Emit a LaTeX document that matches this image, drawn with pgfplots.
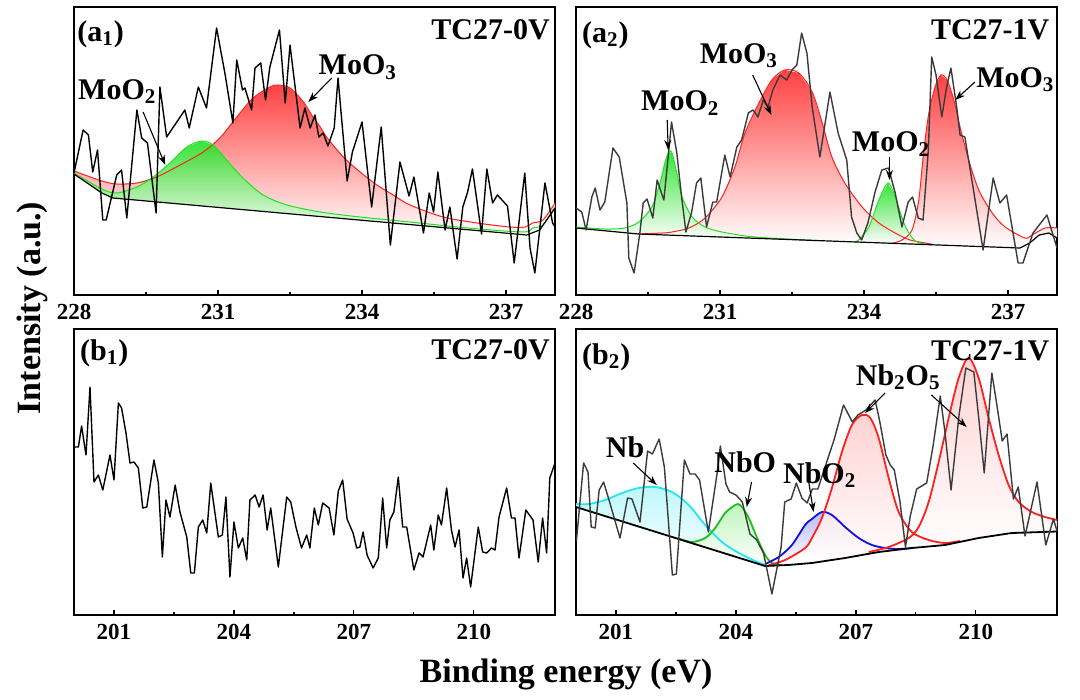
\documentclass[border=0pt]{standalone}
\usepackage{fontspec}
\setmainfont{Liberation Serif}
\usepackage{pgfplots}
\pgfplotsset{compat=1.18}
\usetikzlibrary{arrows.meta}

\definecolor{fred}{HTML}{FF2020}
\definecolor{fgreen}{HTML}{22E022}
\definecolor{fcyan}{HTML}{22E6F2}
\definecolor{fblue}{HTML}{1010E0}
\definecolor{rawgray}{HTML}{3A3A3A}

\pgfplotsset{
  xpsaxis/.style={
    scale only axis, width=240.5pt, anchor=north west,
    ytick=\empty, xtick pos=lower, tick align=inside,
    major tick length=2.5pt, minor tick length=1.5pt,
    minor x tick num=1,
    axis line style={line width=0.75pt},
    every tick/.style={black, line width=0.6pt},
    xticklabel style={font=\fontsize{11.5}{11.5}\selectfont\bfseries, yshift=-1pt},
    /pgf/number format/assume math mode=true,
  },
  toprow/.style={height=144pt, xmin=228, xmax=238.02, ymin=0, ymax=288,
    xtick={228,231,234,237}},
  botrow/.style={height=143pt, xmin=200, xmax=212.03, ymin=0, ymax=286,
    xtick={201,204,207,210}},
  raw/.style={line width=0.7pt, line join=round},
  fit/.style={line width=0.5pt, smooth},
  fitb/.style={line width=0.9pt, smooth},
  shade/.style={draw=none, top color=#1, bottom color=white},
}
\tikzset{
  lbl/.style={font=\fontsize{15}{15}\selectfont\bfseries, inner sep=0pt},
  arr/.style={-{Stealth[length=5pt,width=3.5pt]}, line width=0.55pt, black},
}

\begin{document}
\begin{tikzpicture}
\path[use as bounding box] (0,0) rectangle (540pt,-350pt);

% (a1) Mo 3d, TC27-0V
\begin{axis}[xpsaxis, toprow, at={(37pt,-3.5pt)}]
% shaded areas: fitted peak down to the background
\addplot[shade=fred!85] coordinates {
(228,124)(228.58,114)(228.89,111)(229.31,112)(229.72,118)(230.21,130)(230.69,143)
(231.04,157)(231.39,178)(231.73,197)(232.08,208)(232.25,210)(232.50,207)(232.78,193)
(232.95,180)(233.13,168)(233.26,158)(233.61,138)(233.96,123)(234.31,110)(234.65,100)
(235.0,90)(235.69,78)(236.40,72)(237.08,68)(237.40,68)(237.55,72)(237.77,75)(238.02,92)
(238.02,87)(237.70,65)(237.43,60)(228.81,97)(228.58,102)(228,121)} -- cycle;
\addplot[shade=fgreen, fill opacity=0.9] coordinates {
(228,122)(228.58,106)(228.89,102)(229.31,108)(229.65,118)(230.0,132)(230.35,148)
(230.66,154)(230.90,150)(231.18,135)(231.52,117)(231.94,100)(232.44,90)(233.13,83)
(233.96,78)(235.0,73)(236.2,67)(237.35,63)(237.55,67)(237.77,70)(238.02,88)
(238.02,87)(237.70,65)(237.43,60)(228.81,97)(228.58,102)(228,121)} -- cycle;
\addplot[fit, fred] coordinates {
(228,124)(228.58,114)(228.89,111)(229.31,112)(229.72,118)(230.21,130)(230.69,143)
(231.04,157)(231.39,178)(231.73,197)(232.08,208)(232.25,210)(232.50,207)(232.78,193)
(232.95,180)(233.13,168)(233.26,158)(233.61,138)(233.96,123)(234.31,110)(234.65,100)
(235.0,90)(235.69,78)(236.40,72)(237.08,68)(237.40,68)(237.55,72)(237.77,75)(238.02,92)};
\addplot[fit, fgreen] coordinates {
(228,122)(228.58,106)(228.89,102)(229.31,108)(229.65,118)(230.0,132)(230.35,148)
(230.66,154)(230.90,150)(231.18,135)(231.52,117)(231.94,100)(232.44,90)(233.13,83)
(233.96,78)(235.0,73)(236.2,67)(237.35,63)(237.55,67)(237.77,70)(238.02,88)};
\addplot[line width=0.6pt, black] coordinates {
(228,121)(228.58,102)(228.81,97)(237.43,60)(237.70,65)(238.02,87)};
\addplot[raw, black] coordinates {
(228.00,122)(228.19,165)(228.30,160)(228.39,123)(228.49,145)(228.60,75)(228.67,75)
(228.89,120)(228.99,125)(229.10,77)(229.31,185)(229.41,157)(229.53,152)(229.71,82)
(229.79,208)(229.93,158)(230.31,185)(230.40,167)(230.59,208)(230.76,187)(230.97,267)
(231.15,220)(231.31,172)(231.39,235)(231.51,205)(231.56,207)(231.70,185)(231.77,227)
(231.89,232)(231.99,195)(232.08,228)(232.28,265)(232.40,192)(232.50,250)(232.71,167)
(232.81,187)(232.92,167)(233.02,180)(233.10,158)(233.19,162)(233.29,149)(233.42,167)
(233.50,217)(233.69,114)(233.80,143)(234.00,173)(234.20,88)(234.40,168)(234.59,50)
(234.79,133)(234.98,99)(235.08,118)(235.28,62)(235.40,102)(235.49,83)(235.58,123)
(235.73,65)(235.83,88)(235.98,36)(236.10,88)(236.20,103)(236.30,126)(236.49,61)
(236.60,126)(236.72,92)(236.82,100)(237.03,89)(237.17,32)(237.39,122)(237.50,47)
(237.60,22)(237.81,112)(237.97,72)(238.02,68)};
\node[lbl, anchor=north west] at (rel axis cs:0.006,0.955) {(a\textsubscript{1})};
\node[lbl, anchor=north east] at (rel axis cs:0.99,0.957) {TC27-0V};
\node[lbl, anchor=base west] at (axis cs:228.08,195.7) {MoO\textsubscript{2}};
\node[lbl, anchor=base west] at (axis cs:233.09,220) {MoO\textsubscript{3}};
\draw[arr] (axis cs:229.44,183) -- (axis cs:229.90,130);
\draw[arr] (axis cs:233.37,217) -- (axis cs:232.88,193);
\end{axis}

% (a2) Mo 3d, TC27-1V
\begin{axis}[xpsaxis, toprow, at={(288pt,-3.5pt)}]
\addplot[shade=fred!85] coordinates {
(229.3,61)(229.8,62)(230.0,63)(230.35,67)(230.69,77)(231.04,98)(231.31,128)(231.52,162)
(231.81,192)(232.08,215)(232.35,225)(232.64,222)(232.92,203)(233.13,172)(233.33,138)
(233.60,112)(233.96,88)(234.31,72)(234.65,62)(234.96,55)(235.4,51)} -- cycle;
\addplot[shade=fred!85] coordinates {
(234.6,52)(234.79,55)(235.0,65)(235.14,95)(235.24,142)(235.35,182)(235.48,208)
(235.60,220)(235.73,215)(235.87,195)(236.0,168)(236.18,135)(236.39,105)(236.67,82)
(236.94,68)(237.35,57)(237.50,60)(237.77,67)(238.02,67)
(238.02,57)(237.85,62)(237.65,60)(237.45,52)(237.25,47)} -- cycle;
\addplot[shade=fgreen, fill opacity=0.9] coordinates {
(228,68)(228.6,66)(229.02,67)(229.31,73)(229.58,88)(229.75,112)(229.85,132)(229.93,143)
(230.0,142)(230.10,122)(230.21,98)(230.42,78)(230.69,68)(231.04,63)(231.73,58)(233.0,54.5)
(229.3,61)(228,67)} -- cycle;
\addplot[shade=fgreen, fill opacity=0.9] coordinates {
(233.8,53)(233.89,55)(234.10,68)(234.31,95)(234.50,112)(234.65,98)(234.83,72)(235.0,57)
(235.14,52.3)(235.3,51)} -- cycle;
\addplot[fit, fred] coordinates {
(229.3,61)(229.8,62)(230.0,63)(230.35,67)(230.69,77)(231.04,98)(231.31,128)(231.52,162)
(231.81,192)(232.08,215)(232.35,225)(232.64,222)(232.92,203)(233.13,172)(233.33,138)
(233.60,112)(233.96,88)(234.31,72)(234.65,62)(234.96,55)(235.4,51)};
\addplot[fit, fred] coordinates {
(234.6,52)(234.79,55)(235.0,65)(235.14,95)(235.24,142)(235.35,182)(235.48,208)
(235.60,220)(235.73,215)(235.87,195)(236.0,168)(236.18,135)(236.39,105)(236.67,82)
(236.94,68)(237.35,57)(237.50,60)(237.77,67)(238.02,67)};
\addplot[fit, fgreen] coordinates {
(228,68)(228.6,66)(229.02,67)(229.31,73)(229.58,88)(229.75,112)(229.85,132)(229.93,143)
(230.0,142)(230.10,122)(230.21,98)(230.42,78)(230.69,68)(231.04,63)(231.73,58)(233.0,54.5)};
\addplot[fit, fgreen] coordinates {
(233.8,53)(233.89,55)(234.10,68)(234.31,95)(234.50,112)(234.65,98)(234.83,72)(235.0,57)
(235.14,52.3)(235.3,51)};
\addplot[line width=0.6pt, black] coordinates {
(228,67)(229.3,61)(237.25,47)(237.45,52)(237.65,60)(237.85,62)(238.02,57)};
\addplot[raw, rawgray] coordinates {
(228.00,87)(228.12,83)(228.21,65)(228.33,98)(228.40,107)(228.50,85)(228.60,93)(228.77,147)
(228.90,138)(229.06,92)(229.10,37)(229.21,22)(229.33,62)(229.40,92)(229.48,96)(229.60,77)
(229.69,115)(229.83,95)(229.94,148)(229.99,173)(230.10,142)(230.20,98)(230.29,63)(230.41,83)
(230.51,112)(230.60,117)(230.72,68)(230.85,93)(230.93,93)(231.10,140)(231.21,118)(231.35,148)
(231.45,155)(231.59,182)(231.69,185)(231.79,178)(231.90,195)(232.00,188)(232.10,205)
(232.25,220)(232.39,215)(232.50,225)(232.60,230)(232.70,262)(232.81,242)(232.92,188)
(233.08,138)(233.29,203)(233.46,162)(233.64,135)(233.74,78)(233.85,62)(233.95,55)(234.08,72)
(234.23,103)(234.37,125)(234.51,127)(234.65,102)(234.79,68)(234.92,93)(235.01,98)(235.13,77)
(235.23,75)(235.34,145)(235.41,238)(235.50,220)(235.62,178)(235.72,208)(235.81,227)
(235.93,188)(236.00,160)(236.10,158)(236.27,108)(236.48,45)(236.69,117)(236.83,92)
(236.97,100)(237.21,32)(237.31,32)(237.52,62)(237.81,80)(238.02,47)};
\node[lbl, anchor=north west] at (rel axis cs:0.012,0.95) {(a\textsubscript{2})};
\node[lbl, anchor=north east] at (rel axis cs:0.985,0.957) {TC27-1V};
\node[lbl, anchor=base west] at (axis cs:229.35,184.3) {MoO\textsubscript{2}};
\node[lbl, anchor=base west] at (axis cs:230.57,231.7) {MoO\textsubscript{3}};
\node[lbl, anchor=base west] at (axis cs:233.74,143.3) {MoO\textsubscript{2}};
\node[lbl, anchor=base west] at (axis cs:236.33,207.7) {MoO\textsubscript{3}};
\draw[arr] (axis cs:229.90,175) -- (axis cs:229.92,145);
\draw[arr] (axis cs:231.68,220) -- (axis cs:232.07,180);
\draw[arr] (axis cs:234.53,138) -- (axis cs:234.53,115);
\draw[arr] (axis cs:236.31,213) -- (axis cs:235.90,195);
\end{axis}

% (b1) Nb 3d, TC27-0V
\begin{axis}[xpsaxis, botrow, at={(37pt,-164.5pt)}]
\addplot[raw, black] coordinates {
(200.00,168)(200.11,168)(200.19,189)(200.30,160)(200.40,228)(200.50,133)(200.61,140)
(200.72,125)(200.90,160)(201.00,135)(201.11,212)(201.19,207)(201.30,182)(201.40,152)
(201.50,153)(201.61,147)(201.72,107)(201.82,108)(202.00,155)(202.11,132)(202.21,58)
(202.30,115)(202.40,98)(202.53,130)(202.65,103)(202.82,78)(202.92,42)(203.01,42)
(203.11,88)(203.22,95)(203.32,82)(203.42,132)(203.61,78)(203.71,80)(203.80,118)
(203.90,38)(204.00,93)(204.11,67)(204.22,77)(204.32,55)(204.40,115)(204.53,120)
(204.63,108)(204.73,120)(204.83,85)(204.92,107)(205.11,48)(205.32,118)(205.42,113)
(205.55,88)(205.69,67)(205.82,80)(205.90,67)(206.01,107)(206.11,90)(206.22,112)
(206.38,107)(206.50,80)(206.61,124)(206.72,135)(206.83,96)(206.98,82)(207.07,67)
(207.15,68)(207.23,83)(207.33,60)(207.48,47)(207.61,57)(207.72,117)(207.82,67)
(207.90,95)(208.00,103)(208.11,138)(208.22,88)(208.32,88)(208.50,45)(208.63,62)
(208.73,58)(208.92,90)(209.00,65)(209.11,100)(209.19,90)(209.32,127)(209.44,85)
(209.53,68)(209.63,85)(209.73,37)(209.82,57)(209.92,28)(210.11,88)(210.22,63)
(210.32,62)(210.44,67)(210.53,65)(210.63,98)(210.82,127)(210.94,97)(211.03,97)
(211.13,57)(211.30,105)(211.48,95)(211.61,53)(211.72,97)(211.82,62)(211.90,137)
(212.03,152)};
\node[lbl, anchor=north west] at (rel axis cs:0.012,0.964) {(b\textsubscript{1})};
\node[lbl, anchor=north east] at (rel axis cs:0.99,0.964) {TC27-0V};
\end{axis}

% (b2) Nb 3d, TC27-1V
\begin{axis}[xpsaxis, botrow, at={(288pt,-164.5pt)}]
\addplot[shade=fcyan!30] coordinates {
(200,111)(200.32,111)(200.73,115)(201.15,122)(201.57,127)(201.98,128)(202.40,123)
(202.82,110)(203.23,90)(203.65,73)(204.07,62)(204.48,54)(204.73,50)(204.73,49)(200,108)} -- cycle;
\addplot[shade=fgreen!30] coordinates {
(202.6,76)(202.9,73)(203.23,77)(203.48,87)(203.73,102)(203.98,110)(204.05,111)
(204.15,108)(204.32,97)(204.53,77)(204.73,60)(204.90,52)(205.15,50)(204.73,49)} -- cycle;
\addplot[shade=fblue!28] coordinates {
(204.73,51)(205.07,58)(205.40,70)(205.73,90)(205.90,96)(206.15,103)(206.40,100)
(206.73,88)(207.07,77)(207.40,70)(207.73,67)(208.07,66)(208.4,67)
(207.57,63)(206.73,57)(205.9,52)(205.3,50)} -- cycle;
\addplot[shade=fred!22, fill opacity=0.9] coordinates {
(204.82,50)(205.23,55)(205.73,67)(205.90,77)(206.15,97)(206.40,127)(206.65,163)
(206.90,190)(207.15,200)(207.36,197)(207.57,177)(207.82,137)(208.07,103)(208.40,83)
(208.82,75)(209.23,72)(209.6,74)
(209.23,70)(208.4,67)(207.57,63)(206.73,57)(205.9,52)(205.3,50)} -- cycle;
\addplot[shade=fred!22, fill opacity=0.9] coordinates {
(207.32,63)(207.82,68)(208.32,77)(208.57,88)(208.82,113)(209.07,153)(209.32,197)
(209.57,237)(209.82,257)(210.07,237)(210.32,197)(210.57,160)(210.82,130)(211.07,113)
(211.40,103)(211.73,98)(212.03,95)
(212.03,83.5)(210.9,82)(210.07,77)(209.23,70)(208.4,67)(207.57,63)} -- cycle;
\addplot[fitb, fcyan] coordinates {
(200,111)(200.32,111)(200.73,115)(201.15,122)(201.57,127)(201.98,128)(202.40,123)
(202.82,110)(203.23,90)(203.65,73)(204.07,62)(204.48,54)(204.73,50)};
\addplot[fitb, fgreen!85!black] coordinates {
(202.6,76)(202.9,73)(203.23,77)(203.48,87)(203.73,102)(203.98,110)(204.05,111)
(204.15,108)(204.32,97)(204.53,77)(204.73,60)(204.90,52)(205.15,50)};
\addplot[fitb, fblue] coordinates {
(204.73,51)(205.07,58)(205.40,70)(205.73,90)(205.90,96)(206.15,103)(206.40,100)
(206.73,88)(207.07,77)(207.40,70)(207.73,67)(208.07,66)(208.4,67)};
\addplot[fitb, fred] coordinates {
(204.82,50)(205.23,55)(205.73,67)(205.90,77)(206.15,97)(206.40,127)(206.65,163)
(206.90,190)(207.15,200)(207.36,197)(207.57,177)(207.82,137)(208.07,103)(208.40,83)
(208.82,75)(209.23,72)(209.6,74)};
\addplot[fitb, fred] coordinates {
(207.32,63)(207.82,68)(208.32,77)(208.57,88)(208.82,113)(209.07,153)(209.32,197)
(209.57,237)(209.82,257)(210.07,237)(210.32,197)(210.57,160)(210.82,130)(211.07,113)
(211.40,103)(211.73,98)(212.03,95)};
\addplot[line width=0.9pt, black] coordinates {
(200,108)(204.73,49)(205.3,50)(205.9,52)(206.73,57)(207.57,63)(208.4,67)(209.23,70)
(210.07,77)(210.9,82)(212.03,83.5)};
\addplot[raw, rawgray] coordinates {
(200.01,74)(200.19,152)(200.30,143)(200.38,88)(200.48,87)(200.58,125)(200.69,133)
(200.84,113)(201.10,77)(201.29,117)(201.40,116)(201.60,93)(201.79,164)(201.91,161)
(202.08,176)(202.21,148)(202.41,40)(202.51,41)(202.71,155)(202.85,141)(202.98,141)
(203.09,135)(203.31,83)(203.53,142)(203.61,169)(203.75,131)(203.84,123)(204.00,120)
(204.16,113)(204.35,81)(204.52,75)(204.69,62)(204.90,21)(205.13,68)(205.22,113)
(205.38,116)(205.51,132)(205.65,117)(205.78,112)(205.91,126)(206.05,126)(206.18,142)
(206.46,176)(206.69,210)(206.91,193)(207.05,200)(207.25,205)(207.48,215)(207.59,195)
(207.75,160)(207.86,150)(207.96,145)(208.10,114)(208.24,68)(208.36,99)(208.52,126)
(208.77,132)(208.93,169)(209.11,219)(209.23,182)(209.38,125)(209.58,200)(209.75,247)
(209.95,243)(210.08,194)(210.21,142)(210.40,242)(210.53,209)(210.66,174)(210.78,181)
(210.94,116)(211.06,128)(211.23,79)(211.53,133)(211.75,70)(211.94,96)(212.03,84)};
\node[lbl, anchor=north west] at (rel axis cs:0.012,0.95) {(b\textsubscript{2})};
\node[lbl, anchor=north east] at (rel axis cs:0.985,0.962) {TC27-1V};
\node[lbl, anchor=base west] at (axis cs:200.74,157.7) {Nb};
\node[lbl, anchor=base west] at (axis cs:203.45,142.3) {NbO};
\node[lbl, anchor=base west] at (axis cs:205.17,131.7) {NbO\textsubscript{2}};
\node[lbl, anchor=base west] at (axis cs:206.99,230) {Nb\textsubscript{2}O\textsubscript{5}};
\draw[arr] (axis cs:201.43,152) -- (axis cs:202.02,130);
\draw[arr] (axis cs:204.39,133) -- (axis cs:204.27,108);
\draw[arr] (axis cs:205.82,133) -- (axis cs:205.94,103);
\draw[arr] (axis cs:207.73,222) -- (axis cs:207.23,202);
\draw[arr] (axis cs:208.89,220) -- (axis cs:209.77,188);
\end{axis}

\node[rotate=90, font=\fontsize{17}{17}\selectfont\bfseries] at (16pt,-154pt) {Intensity (a.u.)};
\node[font=\fontsize{17}{17}\selectfont\bfseries] at (283pt,-337pt) {Binding energy (eV)};
\end{tikzpicture}
\end{document}
